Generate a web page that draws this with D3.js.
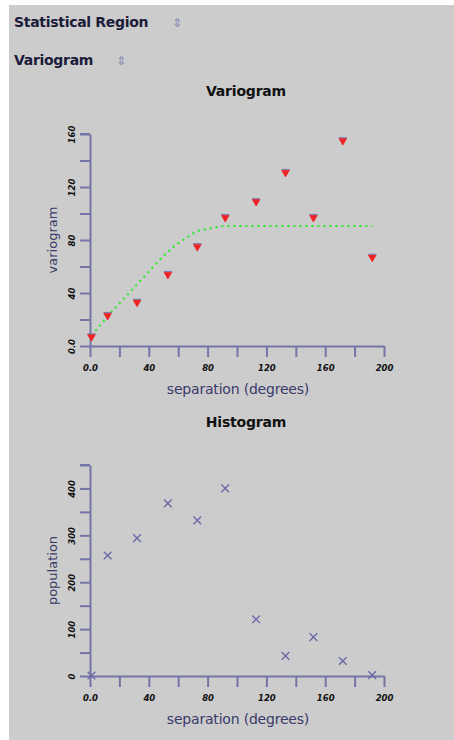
<!DOCTYPE html>
<html><head><meta charset="utf-8">
<script src="https://cdn.jsdelivr.net/npm/d3@7"></script>
<style>
html,body{margin:0;padding:0;background:#fff;}
svg{display:block;}
</style></head>
<body>
<svg id="c" width="454" height="740"></svg>
<script>
// ---- data ----
const separation = [1, 12, 32, 53, 73, 92, 113, 133, 152, 172, 192];
const variogramValues = [7, 23, 33, 54, 75, 97, 109, 131, 97, 155, 67];
const modelSeparation = [1, 8, 14, 25, 39, 50, 58, 70, 75, 83, 91, 192];
const modelValues = [8, 17, 25, 38, 55, 68, 76, 85, 87.5, 89, 90.6, 90.6];
const populationValues = [1, 257, 294, 368, 332, 400, 121, 43, 83, 32, 2];
const xTicks = [0, 20, 40, 60, 80, 100, 120, 140, 160, 180, 200];
const xTickLabels = ["0.0", "", "40", "", "80", "", "120", "", "160", "", "200"];
const vTicks = [0, 20, 40, 60, 80, 100, 120, 140, 160];
const vTickLabels = ["0.0", "", "40", "", "80", "", "120", "", "160"];
const hTicks = [0, 50, 100, 150, 200, 250, 300, 350, 400, 450];
const hTickLabels = ["0", "", "100", "", "200", "", "300", "", "400", ""];

const svg = d3.select("#c");
const AX = "#7474a6";
svg.append("rect").attr("x", 9).attr("y", 5).attr("width", 445).attr("height", 735).attr("fill", "#cccccc");

// header
function header(txt, y, iconX) {
  svg.append("text").attr("x", 14).attr("y", y).text(txt)
    .attr("font-family", "DejaVu Sans").attr("font-weight", "bold").attr("font-size", 14)
    .attr("letter-spacing", -0.3).attr("fill", "#1b1b3a");
  svg.append("text").attr("x", iconX).attr("y", y).text("⇕")
    .attr("font-family", "DejaVu Sans").attr("font-size", 12).attr("fill", "#8888b0");
}
header("Statistical Region", 27, 172);
header("Variogram", 65, 116);

const x = d3.scaleLinear().domain([0, 200]).range([90, 384]);
const yV = d3.scaleLinear().domain([0, 160]).range([346, 134]);
const yH = d3.scaleLinear().domain([0, 450]).range([676, 465]);

function drawAxes(y, ticks, labels, title, ytitle, titleY, xTitleY) {
  const g = svg.append("g");
  const ax = g.append("g").attr("transform", `translate(0,${y.range()[0]})`)
    .call(d3.axisBottom(x).tickValues(xTicks).tickSize(11).tickSizeOuter(0)
      .tickFormat((d, i) => xTickLabels[i]));
  const ay = g.append("g").attr("transform", `translate(${x(0)},0)`)
    .call(d3.axisLeft(y).tickValues(ticks).tickSize(10).tickSizeOuter(0)
      .tickFormat((d, i) => labels[i]));
  [ax, ay].forEach(a => {
    a.select(".domain").attr("stroke", AX).attr("stroke-width", 2);
    a.selectAll(".tick line").attr("stroke", AX).attr("stroke-width", 2);
    a.selectAll("text").attr("font-family", "DejaVu Sans").attr("font-weight", "bold")
      .attr("font-size", 8.5).attr("fill", "#111").attr("font-style", "italic");
  });
  ax.selectAll("text").attr("dy", null).attr("y", 25);
  ay.selectAll("text").attr("x", null).attr("dy", null)
    .attr("transform", "translate(-15,0) rotate(-90)").attr("text-anchor", "middle").attr("y", 0);
  g.append("line").attr("x1", x(0) - 10).attr("x2", x(0)).attr("y1", y.range()[1]).attr("y2", y.range()[1])
    .attr("stroke", AX).attr("stroke-width", 2);
  g.append("text").attr("x", 246).attr("y", titleY).text(title).attr("text-anchor", "middle")
    .attr("font-family", "DejaVu Sans").attr("font-weight", "bold").attr("font-size", 14)
    .attr("letter-spacing", -0.2).attr("fill", "#111");
  g.append("text").attr("x", 238).attr("y", xTitleY).text("separation (degrees)").attr("text-anchor", "middle")
    .attr("font-family", "DejaVu Sans").attr("font-size", 14).attr("letter-spacing", -0.2).attr("fill", "#3a3a6a");
  const cy = (y.range()[0] + y.range()[1]) / 2;
  g.append("text").attr("transform", `translate(57,${cy}) rotate(-90)`).text(ytitle).attr("text-anchor", "middle")
    .attr("font-family", "DejaVu Sans").attr("font-size", 13).attr("fill", "#3a3a6a");
}

drawAxes(yV, vTicks, vTickLabels, "Variogram", "variogram", 96, 394);
drawAxes(yH, hTicks, hTickLabels, "Histogram", "population", 427, 724);

// model line
const line = d3.line().x((d, i) => x(modelSeparation[i])).y((d, i) => yV(modelValues[i]));
svg.append("path").datum(modelValues).attr("d", line).attr("fill", "none")
  .attr("stroke", "#22ee22").attr("stroke-width", 2).attr("stroke-dasharray", "2,4");

// variogram markers (inverted triangles)
const tri = d3.symbol().type(d3.symbolTriangle).size(26);
svg.append("g").selectAll("path").data(variogramValues).join("path")
  .attr("d", tri)
  .attr("transform", (d, i) => `translate(${x(separation[i])},${yV(d)}) rotate(180)`)
  .attr("fill", "#ee2222").attr("stroke", "#ee2222").attr("stroke-width", 0.8);
svg.append("g").selectAll("line").data(variogramValues).join("line")
  .attr("x1", (d, i) => x(separation[i]) - 4).attr("x2", (d, i) => x(separation[i]) + 4)
  .attr("y1", d => yV(d) - 3).attr("y2", d => yV(d) - 3)
  .attr("stroke", "#8080b0").attr("stroke-width", 1.2);

// histogram markers (x)
const cross = d3.symbol().type(d3.symbolX).size(40);
svg.append("g").selectAll("path").data(populationValues).join("path")
  .attr("d", cross)
  .attr("transform", (d, i) => `translate(${x(separation[i])},${yH(d)})`)
  .attr("fill", "none").attr("stroke", "#6a6aa8").attr("stroke-width", 1.4);
</script>
</body></html>
